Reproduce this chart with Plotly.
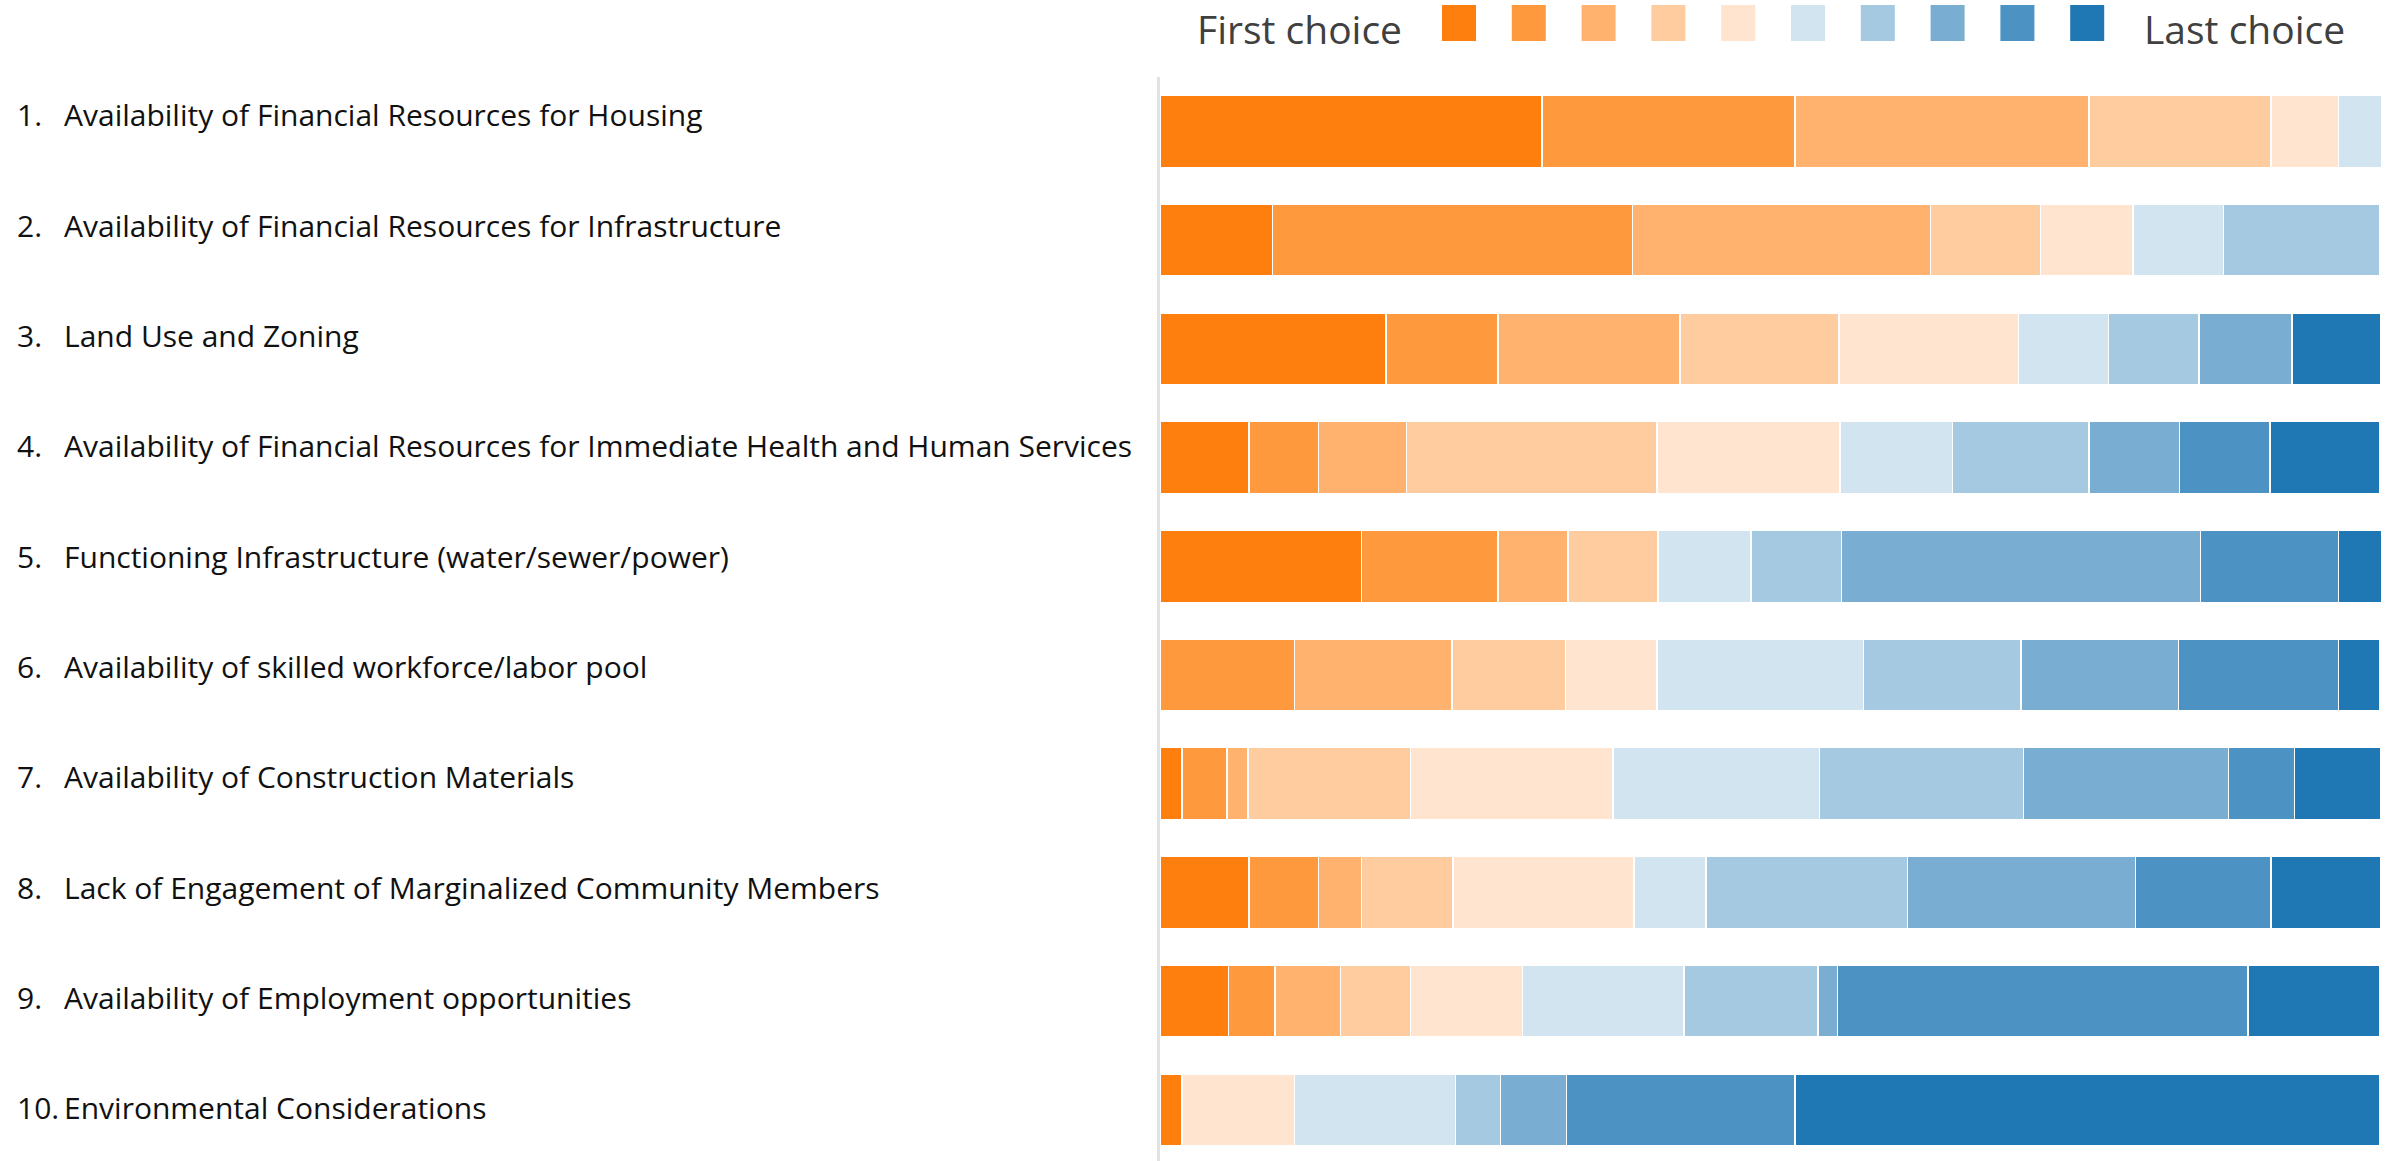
import plotly.graph_objects as go

# ---------------- data ----------------
categories = [
    "Availability of Financial Resources for Housing",
    "Availability of Financial Resources for Infrastructure",
    "Land Use and Zoning",
    "Availability of Financial Resources for Immediate Health and Human Services",
    "Functioning Infrastructure (water/sewer/power)",
    "Availability of skilled workforce/labor pool",
    "Availability of Construction Materials",
    "Lack of Engagement of Marginalized Community Members",
    "Availability of Employment opportunities",
    "Environmental Considerations",
]
numbers = ["1.", "2.", "3.", "4.", "5.", "6.", "7.", "8.", "9.", "10."]

# share (%) of respondents giving each rank, rank 1 = first choice ... rank 10 = last choice
rank_1 = [31.3, 9.2, 18.5, 7.3, 16.5, 0.0, 1.8, 7.3, 5.6, 1.8]
rank_2 = [20.7, 29.5, 9.2, 5.7, 11.2, 11.0, 3.7, 5.7, 3.8, 0.0]
rank_3 = [24.1, 24.4, 14.9, 7.2, 5.7, 12.9, 1.7, 3.5, 5.4, 0.0]
rank_4 = [14.9, 9.0, 13.0, 20.5, 7.4, 9.3, 13.3, 7.5, 5.7, 0.0]
rank_5 = [5.5, 7.6, 14.7, 15.0, 0.0, 7.5, 16.6, 14.8, 9.2, 9.2]
rank_6 = [3.6, 7.4, 7.4, 9.2, 7.6, 16.9, 16.9, 5.9, 13.2, 13.2]
rank_7 = [0.0, 12.8, 7.4, 11.2, 7.4, 12.9, 16.7, 16.5, 11.0, 3.7]
rank_8 = [0.0, 0.0, 7.6, 7.4, 29.4, 12.9, 16.8, 18.7, 1.6, 5.4]
rank_9 = [0.0, 0.0, 0.0, 7.4, 11.3, 13.1, 5.4, 11.1, 33.6, 18.7]
rank_10 = [0.0, 0.0, 7.3, 9.0, 3.6, 3.4, 7.1, 9.0, 10.8, 47.9]
ranks = [rank_1, rank_2, rank_3, rank_4, rank_5, rank_6, rank_7, rank_8, rank_9, rank_10]

rank_names = ["First choice", "2", "3", "4", "5", "6", "7", "8", "9", "Last choice"]
colors = ["#ff7f0e", "#ff993e", "#ffb26e", "#ffcc9f", "#ffe5cf",
          "#d2e4f0", "#a5c9e1", "#79add2", "#4c92c3", "#1f77b4"]

# ---------------- layout geometry (pixels) ----------------
W, H = 2387, 1161
M_L, M_R, M_T, M_B = 1160, 6, 77, 0
PW, PH = W - M_L - M_R, H - M_T - M_B


def px_x(x):
    return (x - M_L) / PW


def px_y(y):
    return (H - M_B - y) / PH


fig = go.Figure()
ypos = list(range(len(categories)))
for vals, name, col in zip(ranks, rank_names, colors):
    fig.add_trace(go.Bar(
        y=ypos, x=vals, orientation="h", name=name,
        marker=dict(color=col, line=dict(color="white", width=1.5)),
        showlegend=False,
    ))

annotations = []
label_font = dict(family="Open Sans, Carlito, Calibri, sans-serif", size=30, color="#111111")
for i, (num, cat) in enumerate(zip(numbers, categories)):
    shift = 16.5 - i * 1.6
    annotations.append(dict(x=px_x(15), xref="paper", y=i, yref="y", yshift=shift,
                            text=num, showarrow=False, xanchor="left", yanchor="middle",
                            font=label_font))
    annotations.append(dict(x=px_x(62), xref="paper", y=i, yref="y", yshift=shift,
                            text=cat, showarrow=False, xanchor="left", yanchor="middle",
                            font=label_font))

# legend: text + colour squares
leg_font = dict(family="Open Sans, Segoe UI, sans-serif", size=39, color="#404040")
annotations.append(dict(x=px_x(1404), xref="paper", y=px_y(0.5), yref="paper",
                        text=rank_names[0], showarrow=False, xanchor="right",
                        yanchor="top", font=leg_font))
annotations.append(dict(x=px_x(2142), xref="paper", y=px_y(0.5), yref="paper",
                        text=rank_names[-1], showarrow=False, xanchor="left",
                        yanchor="top", font=leg_font))
shapes = []
leg_y = 23
for k, col in enumerate(colors):
    cx = 1459 + k * 69.8
    shapes.append(dict(type="rect", xref="paper", yref="paper",
                       x0=px_x(cx - 17), x1=px_x(cx + 17),
                       y0=px_y(leg_y + 18), y1=px_y(leg_y - 18),
                       fillcolor=col, line=dict(width=0)))

fig.update_layout(
    width=W, height=H,
    margin=dict(l=M_L, r=M_R, t=M_T, b=M_B, pad=0),
    barmode="stack", bargap=0.338,
    plot_bgcolor="white", paper_bgcolor="white",
    xaxis=dict(range=[0, 100], showgrid=False, zeroline=False, showticklabels=False,
               showline=False, fixedrange=True),
    yaxis=dict(range=[9.47, -0.5], showgrid=False, zeroline=False, showticklabels=False,
               showline=True, linecolor="#e2e2e2", linewidth=3, layer="below traces",
               fixedrange=True),
    annotations=annotations, shapes=shapes,
)

fig.write_html("out.html", config={"displayModeBar": False},
               post_script="document.body.style.margin='0';")
